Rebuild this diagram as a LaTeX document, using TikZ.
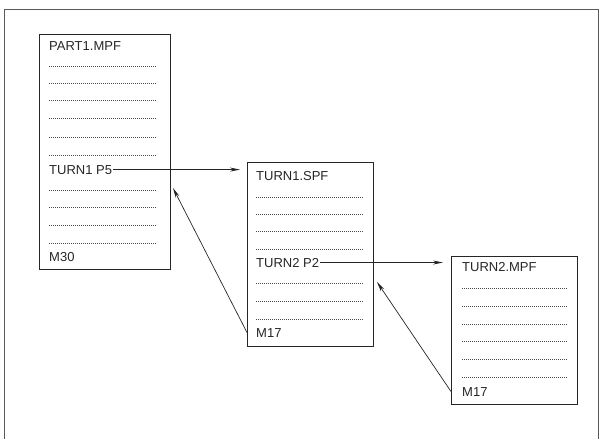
\documentclass[tikz,border=0pt]{standalone}
\usepackage{fontspec}
\setmainfont{Liberation Sans}
\usetikzlibrary{arrows.meta,calc}
\begin{document}
\begin{tikzpicture}[x=1pt,y=-1pt,
  prog/.style={draw=black!85,line width=0.9pt,rectangle,inner sep=0pt,anchor=north west},
  txt/.style={anchor=base west,inner sep=0pt,font=\fontsize{13}{15}\selectfont,text=black!85},
  dots/.style={draw=black!70,line width=0.7pt,dash pattern=on 0.5pt off 1.5pt},
  link/.style={draw=black!85,line width=0.7pt,-{Stealth[length=10pt,width=4pt]}}]
\useasboundingbox (0,0) rectangle (608,439);
% outer frame
\draw[black!65,line width=0.9pt] (4,445) -- (4,9) -- (598,9) -- (598,445);
% boxes
\node[prog,minimum width=131pt,minimum height=235pt] (box1) at (39,34) {};
\node[prog,minimum width=126pt,minimum height=184pt] (box2) at (247,162) {};
\node[prog,minimum width=126pt,minimum height=148pt] (box3) at (451,256) {};
% box 1
\node[txt] (p1) at (49,50) {PART1.MPF};
\foreach \y in {66,83,100,118,137,155,190,207,225,243}
  \draw[dots] (49,\y) -- (156,\y);
\node[txt] (t1p5) at (49,174) {TURN1 P5};
\node[txt] (m30) at (49,261) {M30};
% box 2
\node[txt] (s1) at (256,180) {TURN1.SPF};
\foreach \y in {197,214,231,249,283,301,319}
  \draw[dots] (256,\y) -- (363,\y);
\node[txt] (t2p2) at (256,267) {TURN2 P2};
\node[txt] (m17a) at (256,337) {M17};
% box 3
\node[txt] (s2) at (462,271) {TURN2.MPF};
\foreach \y in {288,306,324,341,359,377}
  \draw[dots] (462,\y) -- (568,\y);
\node[txt] (m17b) at (462,396) {M17};
% connectors
\coordinate (r1) at (173,188);
\coordinate (r2) at (377,282);
\draw[link,shorten <=1pt,shorten >=7pt] (t1p5.east) -- (t1p5.east -| box2.west);
\draw[link,shorten <=1pt,shorten >=8pt] (t2p2.east) -- (t2p2.east -| box3.west);
\draw[link] (box2.west |- m17a) -- (r1);
\draw[link] (box3.west |- m17b) -- (r2);
\end{tikzpicture}
\end{document}
